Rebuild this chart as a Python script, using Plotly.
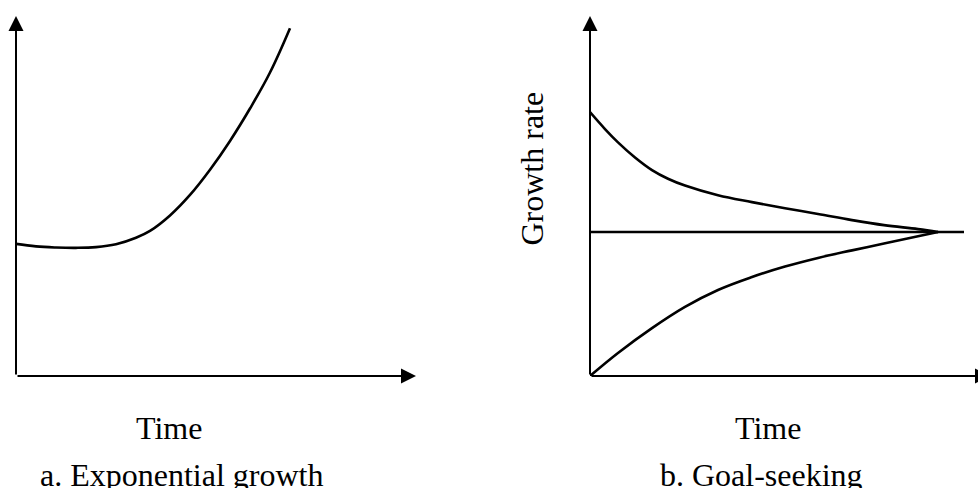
import plotly.graph_objects as go

# ---- data (arbitrary units: time 0..10, level 0..10) ----
exp_time = [0, 0.5, 1.0, 1.5, 2.0, 2.5, 3.0, 3.35, 3.85, 4.35, 4.85, 5.35, 5.85, 6.35, 6.85]
exp_value = [3.67, 3.60, 3.57, 3.56, 3.58, 3.66, 3.84, 4.03, 4.46, 5.03, 5.73, 6.53, 7.43, 8.43, 9.66]

goal_time = [0, 9.35]
goal_value = [4.0, 4.0]

upper_time = [0, 0.375, 0.7, 1.125, 1.55, 1.95, 2.375, 3.2, 4.05, 4.875, 5.7, 6.55, 7.35, 8.2, 8.7]
upper_value = [7.33, 6.86, 6.49, 6.07, 5.72, 5.48, 5.29, 5.02, 4.83, 4.66, 4.5, 4.33, 4.19, 4.08, 4.0]

lower_time = [0, 0.7, 1.55, 2.375, 3.2, 4.05, 4.875, 5.7, 6.55, 7.35, 8.2, 8.7]
lower_value = [0, 0.64, 1.33, 1.92, 2.39, 2.75, 3.04, 3.28, 3.49, 3.68, 3.88, 4.0]

x_title = "Time"
y_title = "Growth rate"
title_a = "a. Exponential growth"
title_b = "b. Goal-seeking"

W, H = 978, 488
FONT = "Liberation Serif, Times New Roman, serif"
line_style = dict(color="black", width=2.6, shape="spline", smoothing=1.1)

fig = go.Figure()
fig.add_trace(go.Scatter(x=exp_time, y=exp_value, mode="lines", line=line_style,
                         xaxis="x", yaxis="y", cliponaxis=False, showlegend=False, hoverinfo="skip"))
fig.add_trace(go.Scatter(x=goal_time, y=goal_value, mode="lines", line=dict(color="black", width=2.3),
                         xaxis="x2", yaxis="y2", cliponaxis=False, showlegend=False, hoverinfo="skip"))
fig.add_trace(go.Scatter(x=upper_time, y=upper_value, mode="lines", line=line_style,
                         xaxis="x2", yaxis="y2", cliponaxis=False, showlegend=False, hoverinfo="skip"))
fig.add_trace(go.Scatter(x=lower_time, y=lower_value, mode="lines", line=line_style,
                         xaxis="x2", yaxis="y2", cliponaxis=False, showlegend=False, hoverinfo="skip"))

ydom = [1 - 376 / H, 1 - 16 / H]
hidden = dict(visible=False, showgrid=False, zeroline=False, fixedrange=True)
fig.update_layout(
    width=W, height=H, autosize=False,
    margin=dict(l=0, r=0, t=0, b=0),
    paper_bgcolor="white", plot_bgcolor="white",
    xaxis=dict(domain=[16 / W, 416 / W], range=[0, 10], **hidden),
    yaxis=dict(domain=ydom, range=[0, 10], **hidden),
    xaxis2=dict(domain=[590 / W, 1.0], range=[0, (W - 590) / 40], **hidden),
    yaxis2=dict(domain=ydom, range=[0, 10], anchor="x2", **hidden),
)

def axis_arrow(xref, yref, x, y):
    return dict(xref=xref, yref=yref, axref=xref, ayref=yref, x=x, y=y, ax=0, ay=0,
                text="", showarrow=True, arrowhead=2, arrowsize=1.5, arrowwidth=2,
                arrowcolor="black", standoff=0)

ann = [
    axis_arrow("x", "y", 0, 10),
    axis_arrow("x", "y", 10, 0),
    axis_arrow("x2", "y2", 0, 10),
    axis_arrow("x2", "y2", 10, 0),
]
txt = dict(xref="paper", yref="paper", showarrow=False, xanchor="center", yanchor="middle",
           font=dict(family=FONT, size=32, color="black"))
ann += [
    dict(text=x_title, x=169 / W, y=1 - 427.5 / H, **txt),
    dict(text=title_a, x=181 / W, y=1 - 475 / H, **txt),
    dict(text=x_title, x=768 / W, y=1 - 427.5 / H, **txt),
    dict(text=title_b, x=761 / W, y=1 - 475 / H, **txt),
    dict(text=y_title, x=531.5 / W, y=1 - 169 / H, textangle=-90, **txt),
]
fig.update_layout(annotations=ann)

fig.write_html("out.html", config={"displayModeBar": False},
               post_script="document.body.style.margin='0';document.body.style.overflow='hidden';")
